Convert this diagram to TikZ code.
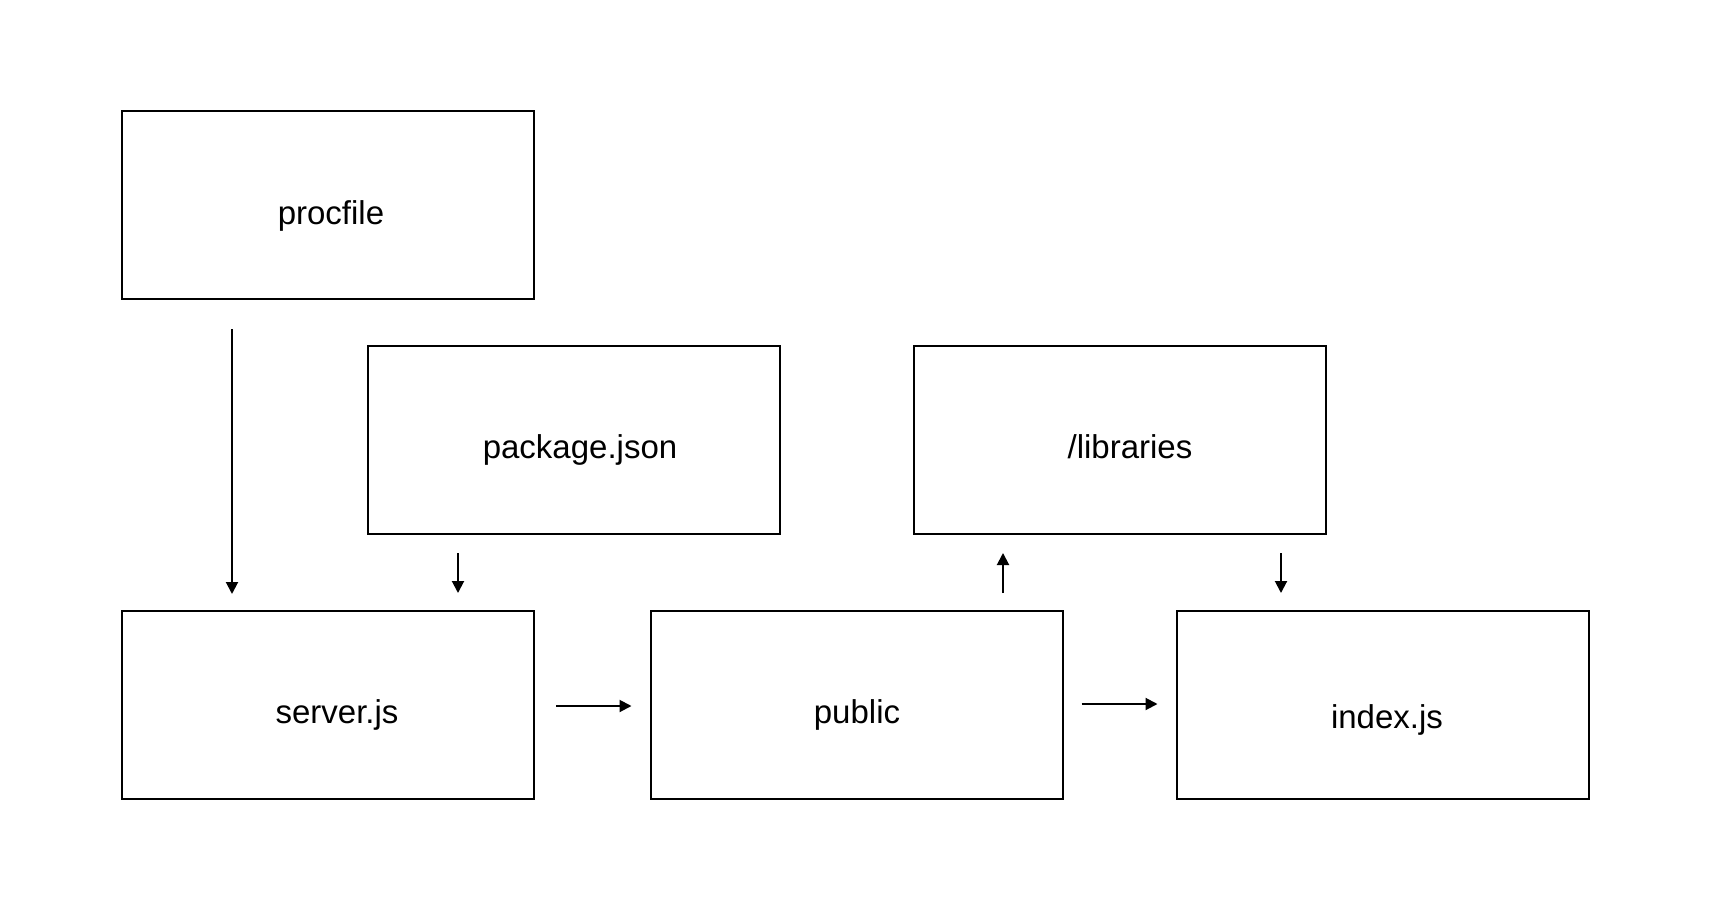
\documentclass[tikz,border=0pt]{standalone}
\usepackage{fontspec}
\setmainfont{Liberation Sans}
\usetikzlibrary{arrows.meta}
\begin{document}
\begin{tikzpicture}[x=1pt,y=-1pt,
  box/.style={draw=black, line width=2pt, rectangle, minimum width=412pt, minimum height=188pt, outer sep=0pt, inner sep=0pt},
  lbl/.style={anchor=base, inner sep=0pt, font=\fontsize{33}{40}\selectfont},
  arr/.style={line width=2pt, -{Triangle[length=12pt,width=12pt]}}]
\useasboundingbox (0,0) rectangle (1724,902);
% boxes
\node[box] (procfile) at (328,205) {};
\node[box] (pkg) at (573.5,440) {};
\node[box] (libs) at (1119.5,440) {};
\node[box] (server) at (328,705) {};
\node[box] (public) at (856.5,705) {};
\node[box] (index) at (1382.5,705) {};
% labels
\node[lbl] (tprocfile) at (331,224) {procfile};
\node[lbl] (tpkg) at (580,458) {package.json};
\node[lbl] (tlibs) at (1130,458) {/libraries};
\node[lbl] (tserver) at (337,723) {server.js};
\node[lbl] (tpublic) at (857,723) {public};
\node[lbl] (tindex) at (1387,728) {index.js};
% connectors
\draw[arr, shorten <=30pt, shorten >=17pt] ([xshift=-96pt]procfile.south) -- ([xshift=-96pt]procfile.south |- server.north);
\draw[arr, shorten <=19pt, shorten >=18pt] ([xshift=-115.5pt]pkg.south) -- ([xshift=-115.5pt]pkg.south |- server.north);
\draw[arr, shorten <=18pt, shorten >=19pt] ([xshift=146.5pt]public.north) -- ([xshift=146.5pt]public.north |- libs.south);
\draw[arr, shorten <=19pt, shorten >=18pt] ([xshift=161.5pt]libs.south) -- ([xshift=161.5pt]libs.south |- index.north);
\draw[arr, shorten <=22pt, shorten >=19pt] ([yshift=-1pt]server.east) -- ([yshift=-1pt]public.west);
\draw[arr, shorten <=19pt, shorten >=19pt] ([yshift=1pt]public.east) -- ([yshift=1pt]index.west);
\end{tikzpicture}
\end{document}
